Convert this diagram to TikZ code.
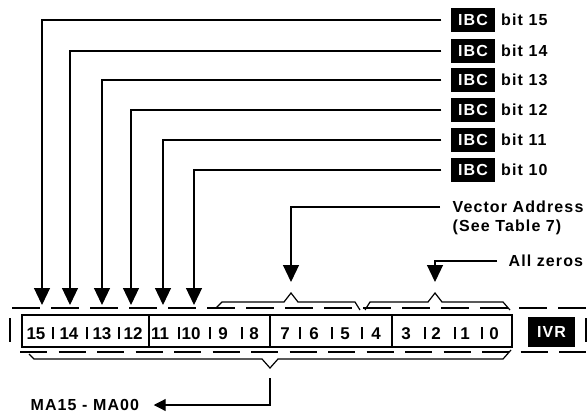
\documentclass[tikz,border=0pt]{standalone}
\usepackage{fontspec}
\setmainfont{Liberation Sans}
\newfontfamily\lblfont{Liberation Sans}[LetterSpace=7]
\usetikzlibrary{arrows.meta,positioning}

\begin{document}
\begin{tikzpicture}[
    x=0.5pt, y=-0.5pt,
    line width=0.6pt,
    lbl/.style={font=\lblfont\bfseries\fontsize{8}{9.6}\selectfont, inner sep=0pt},
    tag/.style={lbl, fill=black, text=white, minimum width=22pt, minimum height=12pt},
    bitnum/.style={font=\bfseries\fontsize{8.5}{10}\selectfont, inner sep=0pt},
    arrow/.style={-{Triangle[width=8pt,length=8.5pt]}},
    smallarrow/.style={-{Triangle[width=6pt,length=6pt]}},
    dashline/.style={dash pattern=on 14pt off 5.5pt}
]
\useasboundingbox (0,0) rectangle (587,411);

% Register
\draw (22,315) rectangle (512,347);
\foreach \x in {149,270,392} \draw (\x,315) -- (\x,347);
\foreach \x in {53,87,119,179,210,242,300,332,362,425,455,482} \draw (\x,327) -- (\x,339);
\foreach \i/\x in {15/36,14/69,13/102,12/133,11/160,10/191,9/223,8/254,7/285,6/314,5/345,4/376,3/406,2/436,1/465,0/494}
    \node (b\i) [bitnum] at (\x,334) {\i};
\node (ivr) [tag, minimum width=23.5pt, minimum height=15pt] at (551.5,332) {IVR};
\draw (10,318) -- (10,342);
\draw (586,318) -- (586,342);
\draw [dashline] (12,308) -- (587,308);
\draw [dash pattern=on 13.5pt off 5.75pt] (20,352) -- (587,352);

% Brackets
\draw (216,308) -- (222,302) -- (284,302) -- (291,293) -- (298,302) -- (355,302) -- (360,310);
\draw (365,310) -- (370,302) -- (428,302) -- (435,293) -- (442,302) -- (503,302) -- (510,310);
\draw (29,354) -- (34,359) -- (262,359) -- (270,368) -- (278,359) -- (503,359) -- (511,350);

% IBC bits
\foreach \n/\y/\x in {15/20/42,14/51/70,13/80/102,12/110/131,11/140/163,10/170/194} {
    \node (ibc\n) [tag] at (473,\y) {IBC};
    \node (bit\n) [lbl, right=2.5pt of ibc\n] {bit \n};
    \coordinate (t\n) at (\x,305);
    \draw [arrow] ([xshift=-4.5pt]ibc\n.west) -| (t\n);
}

% Vector address and zeros
\node (va) [lbl, anchor=west] at (452,207) {Vector Address};
\node (see) [lbl, anchor=west] at (452,227) {(See Table 7)};
\coordinate (vtip) at (291,282);
\draw [arrow] ([xshift=-6pt]va.west) -| (vtip);
\node (zeros) [lbl, anchor=west] at (508,261) {All zeros};
\coordinate (ztip) at (435,282);
\draw [arrow] ([xshift=-5.5pt]zeros.west) -| (ztip);

% Memory address
\node (ma) [lbl, anchor=west] at (30,405) {MA15 - MA00};
\coordinate (mid) at (270,378);
\draw [smallarrow] (mid) |- ([xshift=7pt]ma.east);

\end{tikzpicture}
\end{document}
